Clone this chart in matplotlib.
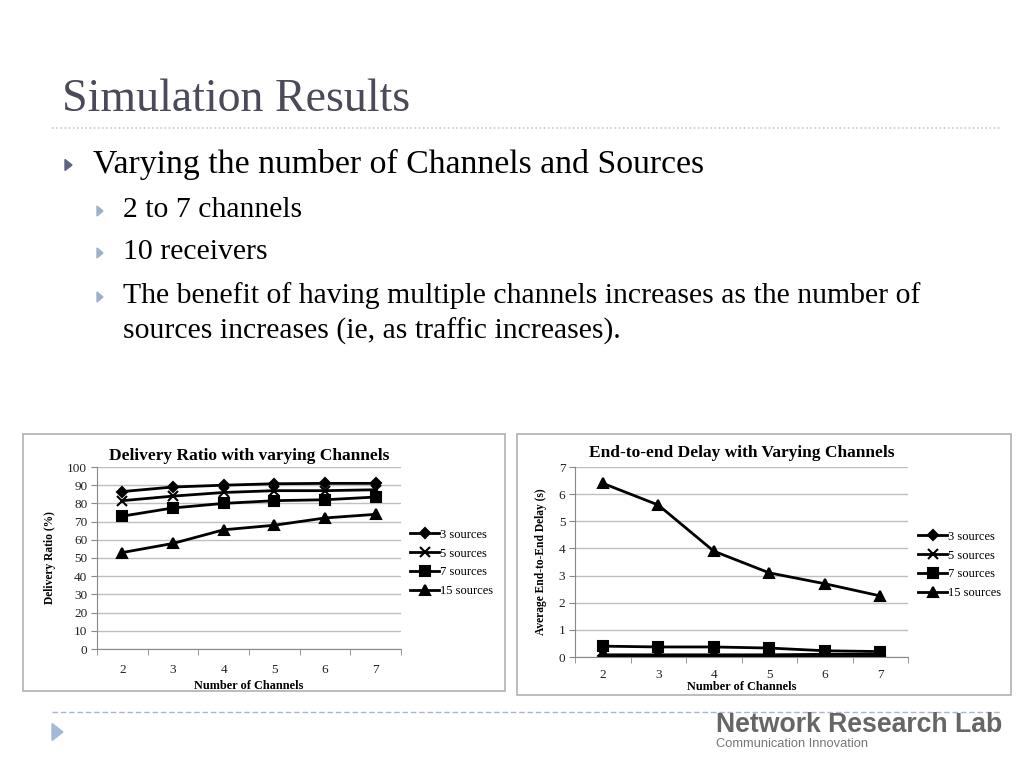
import numpy as np
import matplotlib.pyplot as plt
from matplotlib.patches import Rectangle, Polygon
from matplotlib.lines import Line2D

plt.rcParams['font.family'] = ['Liberation Serif', 'DejaVu Serif']

channels = [2, 3, 4, 5, 6, 7]
series_names = ['3 sources', '5 sources', '7 sources', '15 sources']
markers = ['D', 'x', 's', '^']
msizes = [5, 7, 6.5, 6.5]

# delivery ratio (%)
ratio_3 = [86.5, 89, 90, 90.8, 91, 91]
ratio_5 = [81.5, 84, 86, 87, 87, 87.5]
ratio_7 = [73, 77.5, 80, 81.5, 82, 83.5]
ratio_15 = [53, 58, 65.5, 68, 72, 74]

# end-to-end delay (s)
delay_3 = [0.05, 0.05, 0.05, 0.05, 0.05, 0.05]
delay_5 = [0.08, 0.08, 0.08, 0.08, 0.1, 0.1]
delay_7 = [0.4, 0.37, 0.37, 0.33, 0.23, 0.2]
delay_15 = [6.4, 5.6, 3.9, 3.1, 2.7, 2.25]

fig = plt.figure(figsize=(10.24, 7.68), dpi=100)

# slide text
fig.text(62/1024, 1-100/768, 'Simulation Results', fontsize=33, color='#4a4a58',
         va='center', ha='left')
fig.add_artist(Line2D([52/1024, 1000/1024], [1-128/768]*2, color='#c8c8c8',
                      lw=1.2, linestyle=(0, (1, 1.5))))

def tri(x, y, w, h, color):
    fig.add_artist(Polygon([[x/1024, 1-(y-h/2)/768], [x/1024, 1-(y+h/2)/768],
                            [(x+w)/1024, 1-y/768]], closed=True, color=color,
                           transform=fig.transFigure))

tri(65, 165, 7, 11, '#5c6684')
fig.text(93/1024, 1-164/768, 'Varying the number of Channels and Sources',
         fontsize=24.3, va='center', ha='left')
sub = [(210, '2 to 7 channels'), (252, '10 receivers'),
       (296, 'The benefit of having multiple channels increases as the number of'),
       (331, 'sources increases (ie, as traffic increases).')]
for i, (y, s) in enumerate(sub):
    if i < 3:
        tri(97, y+1, 6, 10, '#9eb0c8')
    fig.text(123/1024, 1-y/768, s, fontsize=21.4, va='center', ha='left')

# footer
fig.add_artist(Line2D([52/1024, 1000/1024], [1-712/768]*2, color='#a8b8cc',
                      lw=1, linestyle=(0, (4, 2))))
tri(52, 732, 11, 17, '#a3bad6')
fig.text(716/1024, 1-725/768, 'Network Research Lab', fontsize=19.2, fontweight='bold',
         color='#666666', family=['Liberation Sans'], va='center', ha='left')
fig.text(716/1024, 1-744/768, 'Communication Innovation', fontsize=9.3,
         color='#777777', family=['Liberation Sans'], va='center', ha='left')

# panel frames
fig.add_artist(Rectangle((23/1024, 1-691/768), 482/1024, 257/768, fill=False,
                         edgecolor='#b0b0b0', lw=1.2, transform=fig.transFigure))
fig.add_artist(Rectangle((517/1024, 1-695/768), 494/1024, 261/768, fill=False,
                         edgecolor='#b0b0b0', lw=1.2, transform=fig.transFigure))


def style_axes(ax, ymax, ystep):
    ax.set_xlim(1.5, 7.5)
    ax.set_ylim(0, ymax)
    ax.set_yticks(np.arange(0, ymax + ystep / 2, ystep))
    ax.set_xticks(channels)
    ax.set_xticks(np.arange(1.5, 8, 1), minor=True)
    ax.tick_params(axis='x', which='major', length=0, labelsize=9.5, pad=11)
    ax.tick_params(axis='x', which='minor', length=4, color='#888888', direction='out')
    ax.tick_params(axis='y', length=4, color='#888888', labelsize=9.5, pad=3)
    ax.grid(axis='y', color='#bfbfbf', lw=1)
    ax.set_axisbelow(True)
    for s in ['top', 'right']:
        ax.spines[s].set_visible(False)
    for s in ['left', 'bottom']:
        ax.spines[s].set_color('#888888')
    for lab in ax.get_xticklabels() + ax.get_yticklabels():
        lab.set_color('#222222')


# left chart
ax1 = fig.add_axes([97/1024, 1-649/768, 304/1024, 182/768])
for vals, m, ms, name in zip([ratio_3, ratio_5, ratio_7, ratio_15], markers, msizes, series_names):
    ax1.plot(channels, vals, marker=m, ms=ms, mew=1.5, color='black', lw=2, label=name)
style_axes(ax1, 100, 10)
ax1.set_title('Delivery Ratio with varying Channels', fontsize=12.5, fontweight='bold', pad=5)
ax1.set_xlabel('Number of Channels', fontsize=8.8, fontweight='bold', labelpad=3)
ax1.set_ylabel('Delivery Ratio (%)', fontsize=8.3, fontweight='bold', labelpad=8)
ax1.legend(loc='center left', bbox_to_anchor=(404/1024, 1-563/768),
           bbox_transform=fig.transFigure, frameon=False, fontsize=9,
           handlelength=2.3, handletextpad=0.1, labelspacing=0.55, borderpad=0)

# right chart
ax2 = fig.add_axes([575/1024, 1-657/768, 333/1024, 190/768])
for vals, m, ms, name in zip([delay_3, delay_5, delay_7, delay_15], markers, msizes, series_names):
    ax2.plot(channels, vals, marker=m, ms=ms, mew=1.5, color='black', lw=2, label=name)
style_axes(ax2, 7, 1)
ax2.tick_params(axis='x', which='major', pad=9)
ax2.set_title('End-to-end Delay with Varying Channels', fontsize=12.5, fontweight='bold', pad=7)
ax2.set_xlabel('Number of Channels', fontsize=8.8, fontweight='bold', labelpad=0)
ax2.set_ylabel('Average End-to-End Delay (s)', fontsize=8.3, fontweight='bold', labelpad=8)
ax2.legend(loc='center left', bbox_to_anchor=(912/1024, 1-565/768),
           bbox_transform=fig.transFigure, frameon=False, fontsize=9,
           handlelength=2.3, handletextpad=0.1, labelspacing=0.55, borderpad=0)

fig.savefig('out.png', dpi=100)
